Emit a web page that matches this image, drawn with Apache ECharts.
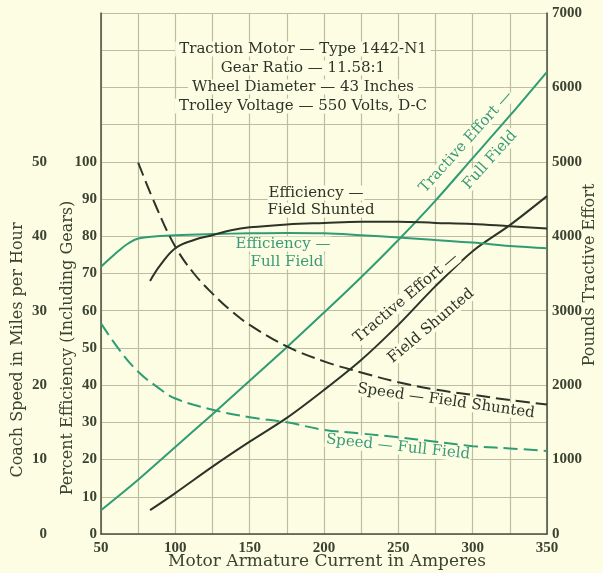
<!DOCTYPE html>
<html>
<head>
<meta charset="utf-8">
<script src="https://cdn.jsdelivr.net/npm/echarts@6/dist/echarts.min.js"></script>
<style>
html,body{margin:0;padding:0;background:#fdfde3;}
#c{width:603px;height:573px;}
</style>
</head>
<body>
<div id="c"></div>
<script>
// Motor armature current (A) vs values
const effFullField = [[50,71.8],[56,74.0],[62.5,76.3],[68,78.0],[75,79.4],[87.5,80.0],[100,80.3],[125,80.6],[150,80.8],[175,80.9],[200,80.8],[225,80.3],[250,79.7],[275,79.0],[300,78.3],[325,77.4],[350,76.8]];
const effFieldShunted = [[83,68.0],[90,72.3],[100,76.8],[112.5,79.0],[125,80.3],[137.5,81.6],[150,82.4],[175,83.2],[200,83.6],[225,83.9],[250,83.9],[275,83.6],[300,83.3],[325,82.7],[350,82.1]];
const speedFieldShunted = [[75,49.9],[87.5,43.8],[100,38.6],[112.5,35.0],[125,32.3],[137.5,30.0],[150,28.1],[175,25.2],[200,23.2],[225,21.7],[250,20.4],[275,19.4],[300,18.7],[325,18.0],[350,17.4]];
const speedFullField = [[50,28.3],[62.5,24.7],[75,21.8],[87.5,19.8],[100,18.2],[125,16.7],[150,15.7],[175,15.0],[200,14.0],[225,13.5],[250,13.0],[275,12.4],[300,11.8],[325,11.5],[350,11.15]];
const teFullField = [[50,320],[75,730],[100,1170],[125,1610],[150,2060],[175,2510],[200,2975],[225,3450],[250,3950],[275,4480],[300,5050],[325,5620],[350,6210]];
const teFieldShunted = [[83,320],[100,550],[125,905],[150,1240],[175,1560],[200,1935],[225,2338],[250,2810],[275,3330],[300,3800],[325,4150],[350,4540]];

const xTicks = [50,100,150,200,250,300,350];
const effTicks = [0,10,20,30,40,50,60,70,80,90,100];
const speedTicks = [0,10,20,30,40,50];
const lbsTicks = [0,1000,2000,3000,4000,5000,6000,7000];

const titleLines = ['Traction Motor — Type 1442-N1','Gear Ratio — 11.58:1','Wheel Diameter — 43 Inches','Trolley Voltage — 550 Volts, D-C'];

const GREEN = '#2f9c74';
const GREEN_T = '#3a9a78';
const DARK = '#2c3327';
const TXT = '#3a4230';
const BG = '#fdfde3';
const GRID = '#bcbda2';
const SERIF = '"Liberation Serif", "DejaVu Serif", serif';
const WIDE = '"DejaVu Serif", "Liberation Serif", serif';

const chart = echarts.init(document.getElementById('c'), null, {renderer:'canvas'});

function lblStyle(extra){
  return Object.assign({fontFamily:SERIF, fontWeight:'bold', fontSize:15, color:TXT}, extra||{});
}

const option = {
  backgroundColor: BG,
  animation:false,
  grid:{left:101, right:56, top:13, bottom:39, containLabel:false},
  xAxis:{
    type:'value', min:50, max:350, interval:25,
    axisLine:{show:true, lineStyle:{color:'#4a5040', width:1.5}},
    axisTick:{show:false},
    splitLine:{show:true, lineStyle:{color:GRID, width:1.2}},
    axisLabel:Object.assign(lblStyle(), {margin:7, formatter:v => xTicks.includes(v) ? String(v) : ''})
  },
  yAxis:[
    {
      type:'value', position:'right', min:0, max:7000, interval:500,
      axisLine:{show:true, lineStyle:{color:'#4a5040', width:1.5}},
      axisTick:{show:false},
      splitLine:{show:true, lineStyle:{color:GRID, width:1.2}},
      axisLabel:Object.assign(lblStyle(), {margin:5, formatter:v => lbsTicks.includes(v) ? String(v) : ''})
    },
    {
      type:'value', position:'left', min:0, max:140, interval:10,
      axisLine:{show:true, lineStyle:{color:'#4a5040', width:1.5}},
      axisTick:{show:false},
      splitLine:{show:false},
      axisLabel:Object.assign(lblStyle(), {margin:4, formatter:v => effTicks.includes(v) ? String(v) : ''})
    },
    {
      type:'value', position:'left', offset:54, min:0, max:70, interval:10,
      axisLine:{show:false}, axisTick:{show:false}, splitLine:{show:false},
      axisLabel:Object.assign(lblStyle(), {margin:0, formatter:v => speedTicks.includes(v) ? String(v) : ''})
    }
  ],
  series:[
    {type:'line', name:'TE Full Field', yAxisIndex:0, data:teFullField, smooth:0.3, symbol:'none', lineStyle:{color:GREEN, width:2}, z:3},
    {type:'line', name:'TE Field Shunted', yAxisIndex:0, data:teFieldShunted, smooth:0.3, symbol:'none', lineStyle:{color:DARK, width:2}, z:3},
    {type:'line', name:'Eff Full Field', yAxisIndex:1, data:effFullField, smooth:0.4, symbol:'none', lineStyle:{color:GREEN, width:2}, z:3},
    {type:'line', name:'Eff Field Shunted', yAxisIndex:1, data:effFieldShunted, smooth:0.4, symbol:'none', lineStyle:{color:DARK, width:2}, z:3},
    {type:'line', name:'Speed Field Shunted', yAxisIndex:2, data:speedFieldShunted, smooth:0.4, symbol:'none', lineStyle:{color:DARK, width:2, type:[14,6]}, z:3},
    {type:'line', name:'Speed Full Field', yAxisIndex:2, data:speedFullField, smooth:0.4, symbol:'none', lineStyle:{color:GREEN, width:2, type:[14,6]}, z:3}
  ],
  graphic:[]
};

function txt(x,y,text,color,size,rot,font){
  return {
    type:'text', x:x, y:y, rotation:(rot||0)*Math.PI/180, z:10,
    style:{text:text, fill:color, font:'normal '+size+'px '+(font||WIDE), textAlign:'center', textVerticalAlign:'middle'}
  };
}

const g = option.graphic;
// title block
titleLines.forEach((t,i)=>{
  g.push({type:'text', x:303, y:49+i*19, z:10, style:{text:t, fill:DARK, font:'normal 15px '+WIDE, textAlign:'center', textVerticalAlign:'middle', backgroundColor:BG, padding:[0,4]}});
});
// axis titles
g.push(txt(18,350,'Coach Speed in Miles per Hour',TXT,16,90));
g.push(txt(68,348,'Percent Efficiency (Including Gears)',TXT,16,90));
g.push(txt(590,275,'Pounds Tractive Effort',TXT,16,90));
g.push(txt(327,562,'Motor Armature Current in Amperes',TXT,17,0));
// curve labels
function lab(x,y,t,c,rot){
  const o = txt(x,y,t,c,15,rot||0);
  o.style.backgroundColor = BG; o.style.padding=[0,1];
  return o;
}
g.push(lab(316,193,'Efficiency —',DARK));
g.push(lab(321,210,'Field Shunted',DARK));
g.push(lab(283,244,'Efficiency —',GREEN_T));
g.push(lab(287,262,'Full Field',GREEN_T));
g.push(lab(466,142,'Tractive Effort —',GREEN_T,48));
g.push(lab(490,160,'Full Field',GREEN_T,48));
g.push(lab(406,298,'Tractive Effort —',DARK,40));
g.push(lab(431,326,'Field Shunted',DARK,40));
g.push(lab(446,401,'Speed — Field Shunted',DARK,-8));
g.push(lab(398,447,'Speed — Full Field',GREEN_T,-6));

chart.setOption(option);
</script>
</body>
</html>
